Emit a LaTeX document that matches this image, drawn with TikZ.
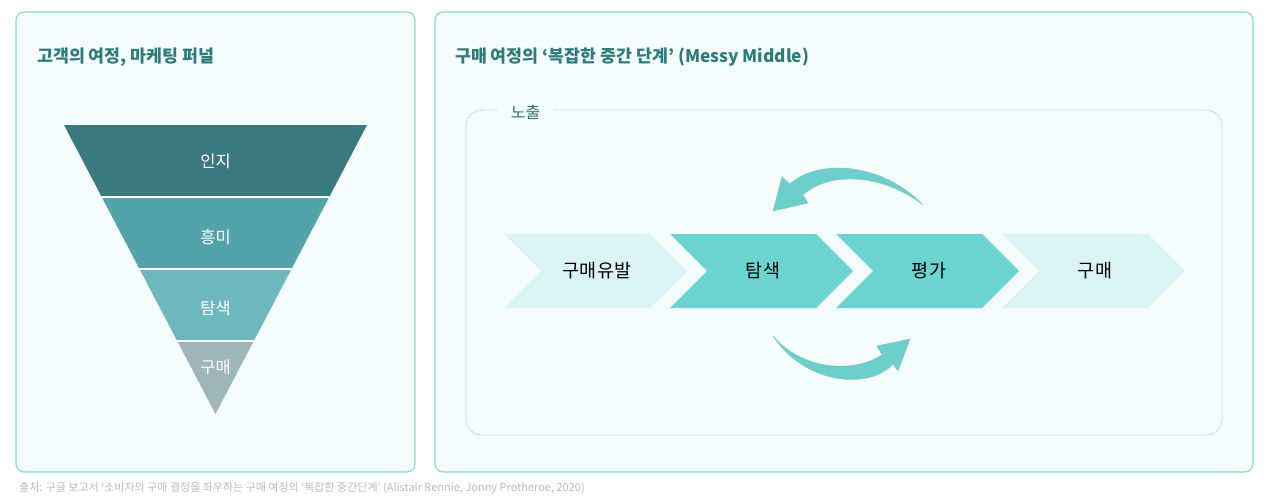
\documentclass[tikz,border=0pt]{standalone}
\usepackage{fontspec}
\setmainfont{Noto Sans CJK KR}
\definecolor{panelbg}{HTML}{F4FDFB}
\definecolor{panelline}{HTML}{86D8D5}
\definecolor{titlec}{HTML}{2E7B7C}
\definecolor{labelc}{HTML}{2F6F70}
\definecolor{dotc}{HTML}{9ECFCF}
\definecolor{funA}{HTML}{3A7A7E}
\definecolor{funB}{HTML}{52A4AA}
\definecolor{funC}{HTML}{6DB8BF}
\definecolor{funD}{HTML}{9EB6BA}
\definecolor{chevlight}{HTML}{DAF4F5}
\definecolor{chevdark}{HTML}{6BD4D0}
\definecolor{arrowc}{HTML}{6CCFCB}
\definecolor{arrowedge}{HTML}{8FBFBD}
\definecolor{footc}{HTML}{BBBBBB}
\begin{document}
\begin{tikzpicture}[x=1pt,y=-1pt,
  panel/.style={draw=panelline, fill=panelbg, line width=1.1pt, rounded corners=8pt},
  titletext/.style={font=\bfseries\fontsize{17.3}{20}\selectfont, text=titlec, inner sep=0pt},
  funtext/.style={font=\fontsize{16.5}{19}\selectfont, text=white, inner sep=0pt},
  chevtext/.style={font=\fontsize{18.5}{21}\selectfont, text=black, inner sep=0pt},
  dotbox/.style={draw=dotc, line width=0.8pt, dash pattern=on 0.8pt off 0.8pt, rounded corners=16pt},
  curvearrow/.style={fill=arrowc, draw=arrowedge, line width=0.4pt},
  foottext/.style={font=\fontsize{11}{13}\selectfont, text=footc, inner sep=0pt}]
\useasboundingbox (0,0) rectangle (1280,503);
\fill[white] (0,0) rectangle (1280,503);
% panels
\draw[panel] (16,12) rectangle (415,472);
\draw[panel] (435,12) rectangle (1253,472);
% titles
\node[titletext, anchor=west] (t1) at (37,57) {고객의 여정, 마케팅 퍼널};
\node[titletext, anchor=west] (t2) at (455,57) {구매 여정의 ‘복잡한 중간 단계’ (Messy Middle)};
% funnel
\begin{scope}
  \clip (64,125) -- (367,125) -- (215.5,414) -- cycle;
  \fill[funA] (60,120) rectangle (370,197);
  \fill[funB] (60,197) rectangle (370,269);
  \fill[funC] (60,269) rectangle (370,341);
  \fill[funD] (60,341) rectangle (370,420);
  \draw[white, line width=2pt] (60,197) -- (370,197);
  \draw[white, line width=2pt] (60,269) -- (370,269);
  \draw[white, line width=2pt] (60,341) -- (370,341);
\end{scope}
\node[funtext] (f1) at (215.5,161) {인지};
\node[funtext] (f2) at (215.5,237) {흥미};
\node[funtext] (f3) at (215.5,308) {탐색};
\node[funtext] (f4) at (215.5,367) {구매};
% inner dotted frame
\draw[dotbox] (466,110) rectangle (1222,435);
\node[fill=panelbg, inner xsep=13pt, inner ysep=2pt, text=labelc, font=\fontsize{16}{18}\selectfont] (expo) at (525.5,112) {노출};
% chevrons
\foreach \i/\txt/\col in {0/구매유발/chevlight, 1/탐색/chevdark, 2/평가/chevdark, 3/구매/chevlight}{
  \pgfmathsetmacro{\L}{504+166*\i}
  \fill[\col] (\L,234) -- ++(146,0) -- ++(37,37) -- ++(-37,37) -- ++(-146,0) -- ++(37,-37) -- cycle;
  \node[chevtext] (c\i) at (\L+93,271) {\txt};
}
% upper curved arrow (back)
\filldraw[curvearrow] (773,211) -- (782,177) -- (790,184)
  .. controls (815,160) and (880,160) .. (923,205)
  .. controls (885,175) and (830,170) .. (803,195)
  -- (808,203) -- cycle;
% lower curved arrow (forward)
\filldraw[curvearrow] (910,339) -- (898,371) -- (893,364)
  .. controls (870,390) and (805,385) .. (773,336)
  .. controls (800,368) and (850,375) .. (882,355)
  -- (877,346) -- cycle;
% footer
\node[foottext, anchor=west] (src) at (19,488) {출처: 구글 보고서 ‘소비자의 구매 결정을 좌우하는 구매 여정의 ‘복잡한 중간단계’ (Alistair Rennie, Jonny Protheroe, 2020)};
\end{tikzpicture}
\end{document}
